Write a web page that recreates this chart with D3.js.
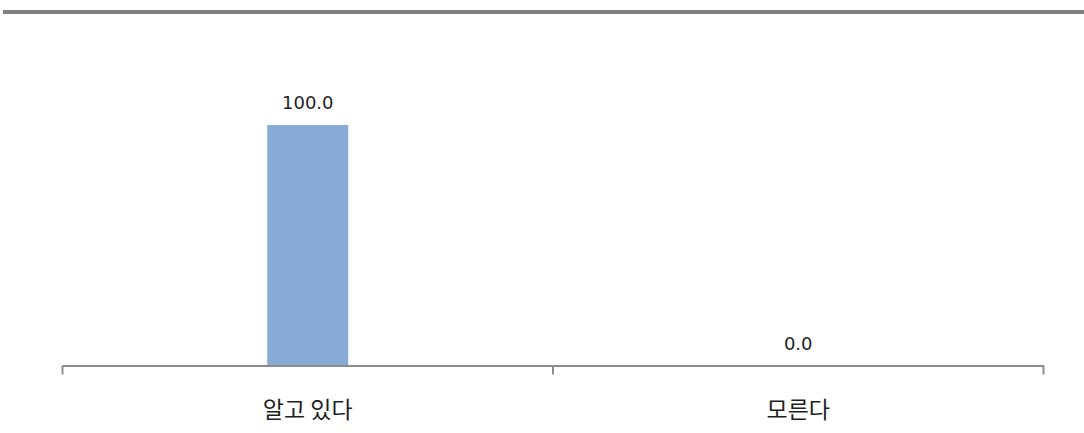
<!DOCTYPE html>
<html><head><meta charset="utf-8">
<script src="https://cdn.jsdelivr.net/npm/d3@7"></script>
<style>body{margin:0;background:#fff;}svg{display:block;}</style>
</head><body>
<svg id="c" width="1084" height="433"></svg>
<script>
const categories = ["알고 있다", "모른다"];
const values = [100.0, 0.0];

const svg = d3.select("#c");
const W = 1084, H = 433;
const krFont = "'Noto Sans CJK KR', 'Noto Sans', sans-serif";
const numFont = "'DejaVu Sans', Verdana, sans-serif";

// top rule
svg.append("rect").attr("x", 3).attr("y", 10).attr("width", W - 3).attr("height", 4).attr("fill", "#808080");

const x = d3.scaleBand().domain(categories).range([62.5, 1043.5]).paddingInner(0).paddingOuter(0);
const y = d3.scaleLinear().domain([0, 100]).range([365.5, 125]);

const barW = 81;
svg.selectAll("rect.bar").data(values).enter().append("rect")
  .attr("class", "bar")
  .attr("x", (d, i) => x(categories[i]) + x.bandwidth() / 2 - barW / 2)
  .attr("y", d => y(d))
  .attr("width", barW)
  .attr("height", d => y(0) - y(d))
  .attr("fill", "#87aad6");

// axis
const axis = d3.axisBottom(x).tickSize(0).tickFormat(d => d);
const g = svg.append("g").attr("transform", `translate(0,${y(0)})`).call(axis);
g.select(".domain").attr("stroke", "#8c8c8c").attr("stroke-width", 2);
g.selectAll(".tick text").attr("font-family", krFont).attr("font-size", 23).attr("fill", "#1e1e1e")
  .attr("dy", "0.35em").attr("y", 44);
// boundary ticks
const bounds = [x.range()[0], x(categories[1]), x.range()[1]];
g.selectAll("line.bt").data(bounds).enter().append("line").attr("class", "bt")
  .attr("x1", d => d).attr("x2", d => d).attr("y1", 0).attr("y2", 9)
  .attr("stroke", "#8c8c8c").attr("stroke-width", 2);

// value labels
svg.selectAll("text.val").data(values).enter().append("text")
  .attr("class", "val")
  .attr("x", (d, i) => x(categories[i]) + x.bandwidth() / 2)
  .attr("y", d => y(d) - 22)
  .attr("dy", "0.35em")
  .attr("text-anchor", "middle")
  .attr("font-family", numFont).attr("font-size", 18).attr("fill", "#1e1e1e")
  .text(d => d.toFixed(1));
</script>
</body></html>
